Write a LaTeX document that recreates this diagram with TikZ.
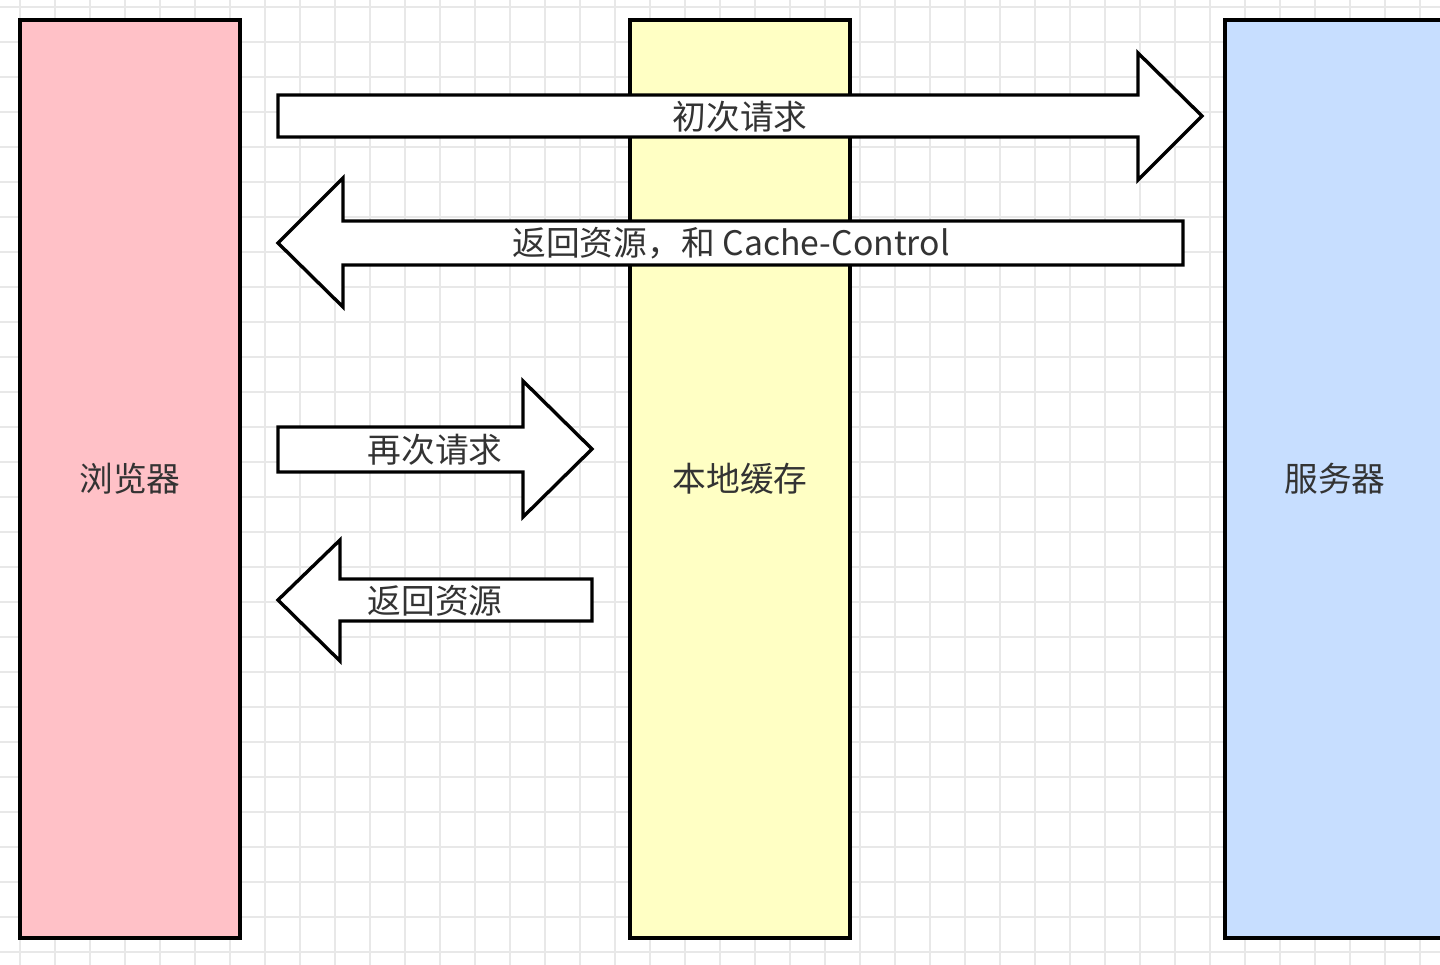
\documentclass[tikz,border=0pt]{standalone}
\usepackage{fontspec}
\setmainfont{Noto Sans CJK SC}
\usepackage{tikz}
\usetikzlibrary{positioning}
\definecolor{mypink}{RGB}{255,193,199}
\definecolor{myyellow}{RGB}{255,255,196}
\definecolor{myblue}{RGB}{199,222,255}
\definecolor{mygrid}{RGB}{232,232,232}
\definecolor{mytext}{RGB}{51,51,51}
\tikzset{
  column/.style={rectangle, draw=black, line width=2.8pt,
    minimum width=5.5cm, minimum height=22.95cm, inner sep=0pt,
    text=mytext, font=\fontsize{24}{28}\selectfont},
  blockarrow/.style={draw=black, fill=white, line width=2.4pt, line join=miter},
  arrowlabel/.style={text=mytext, inner sep=0pt, font=\fontsize{24}{28}\selectfont},
  gridline/.style={color=mygrid, line width=1pt}
}
\begin{document}
\begin{tikzpicture}[x=0.025cm, y=-0.025cm]
  \useasboundingbox (0,0) rectangle (1440,965);
  \fill[white] (0,0) rectangle (1440,965);

  % Grid
  \foreach \gx in {20,55,...,1440}
    \draw[gridline] (\gx,0) -- (\gx,965);
  \foreach \gy in {7,42,...,965}
    \draw[gridline] (0,\gy) -- (1440,\gy);

  % Columns
  \node[column, fill=mypink] (browser) at (130,479) {浏览器};
  \node[column, fill=myyellow] (cache) at (740,479) {本地缓存};
  \node[column, fill=myblue] (server) at (1335,479) {服务器};

  % First request and its response
  \draw[blockarrow] (278,95) -- (1138,95) -- (1138,53) -- (1202,116)
    -- (1138,180) -- (1138,137) -- (278,137) -- cycle;
  \node[arrowlabel] (req1) at (740,117) {初次请求};

  \draw[blockarrow] (1183,221) -- (343,221) -- (343,178) -- (278,243)
    -- (343,307) -- (343,265) -- (1183,265) -- cycle;
  \node[arrowlabel] (resp1) at (731,243) {返回资源，和 Cache-Control};

  % Second request, served from cache
  \draw[blockarrow] (278,427) -- (523,427) -- (523,381) -- (592,449)
    -- (523,517) -- (523,472) -- (278,472) -- cycle;
  \node[arrowlabel] (req2) at (435,450) {再次请求};

  \draw[blockarrow] (592,579) -- (340,579) -- (340,540) -- (278,600)
    -- (340,661) -- (340,621) -- (592,621) -- cycle;
  \node[arrowlabel] (resp2) at (435,601) {返回资源};
\end{tikzpicture}
\end{document}
